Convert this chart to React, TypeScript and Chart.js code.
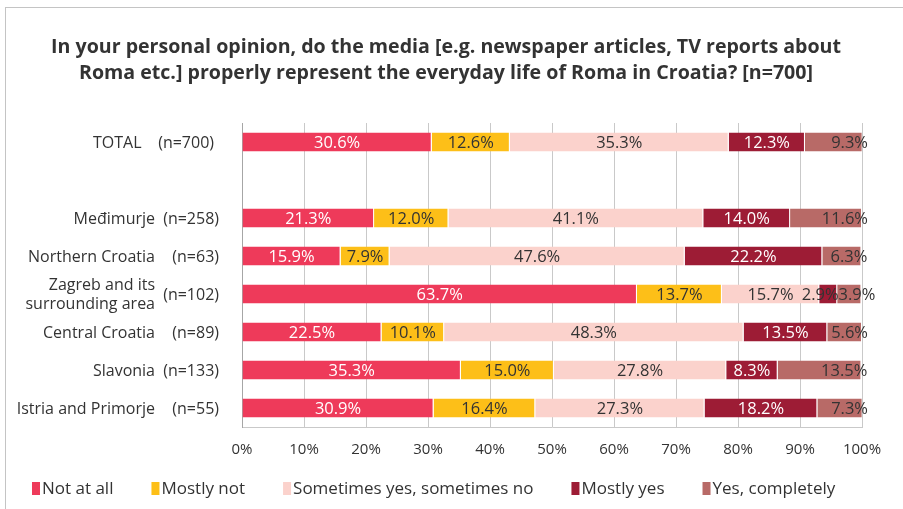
import React, { useEffect, useRef } from "react";
import { Chart, registerables } from "chart.js";

Chart.register(...registerables);

const titleLines = [
  "In your personal opinion, do the media [e.g. newspaper articles, TV reports about",
  "Roma etc.] properly represent the everyday life of Roma in Croatia? [n=700]",
];

const categoryNames = [
  "TOTAL",
  "",
  "Međimurje",
  "Northern Croatia",
  "Zagreb and its\nsurrounding area",
  "Central Croatia",
  "Slavonia",
  "Istria and Primorje",
];
const categorySizes = ["(n=700)", "", "(n=258)", "(n=63)", "(n=102)", "(n=89)", "(n=133)", "(n=55)"];

const seriesNames = ["Not at all", "Mostly not", "Sometimes yes, sometimes no", "Mostly yes", "Yes, completely"];
const notAtAll = [30.6, null, 21.3, 15.9, 63.7, 22.5, 35.3, 30.9];
const mostlyNot = [12.6, null, 12.0, 7.9, 13.7, 10.1, 15.0, 16.4];
const sometimes = [35.3, null, 41.1, 47.6, 15.7, 48.3, 27.8, 27.3];
const mostlyYes = [12.3, null, 14.0, 22.2, 2.9, 13.5, 8.3, 18.2];
const completely = [9.3, null, 11.6, 6.3, 3.9, 5.6, 13.5, 7.3];

const xTickValues = [0, 10, 20, 30, 40, 50, 60, 70, 80, 90, 100];

const colors = ["#EE3A5A", "#FDBF18", "#FBD2CC", "#9D1C35", "#B86A67"];
const labelColors = ["#ffffff", "#333333", "#333333", "#ffffff", "#333333"];

const FONT = "'Open Sans', 'DejaVu Sans', sans-serif";
const TEXT = "#333333";

const titlePlugin = {
  id: "customTitle",
  afterDraw(chart: any) {
    const ctx = chart.ctx;
    ctx.save();
    ctx.font = `bold 19.6px ${FONT}`;
    ctx.fillStyle = TEXT;
    ctx.textAlign = "center";
    ctx.textBaseline = "middle";
    titleLines.forEach((ln, k) => ctx.fillText(ln, 446, 47 + k * 26));
    ctx.restore();
  },
};

const valueLabelPlugin = {
  id: "valueLabels",
  afterDatasetsDraw(chart: any) {
    const ctx = chart.ctx;
    ctx.save();
    ctx.font = `16.5px ${FONT}`;
    ctx.textAlign = "center";
    ctx.textBaseline = "middle";
    const rows: any[][] = [];
    const last = chart.data.datasets.length - 1;
    chart.data.datasets.forEach((ds: any, i: number) => {
      const meta = chart.getDatasetMeta(i);
      meta.data.forEach((bar: any, j: number) => {
        const v = ds.data[j];
        if (v == null) return;
        const p = bar.getProps(["x", "y", "base"], true);
        const text = v.toFixed(1) + "%";
        const w = Math.abs(p.x - p.base);
        const tw = ctx.measureText(text).width;
        const end = Math.min(p.x, chart.chartArea.right);
        const cx = i === last ? end + 6 - tw / 2 : (p.x + p.base) / 2;
        (rows[j] = rows[j] || []).push({
          text,
          cx,
          y: p.y,
          tw,
          color: w < tw ? TEXT : labelColors[i],
        });
      });
    });
    rows.forEach((row) => {
      if (!row) return;
      for (let k = 1; k < row.length; k++) {
        const a = row[k - 1];
        const b = row[k];
        const need = (a.tw + b.tw) / 2;
        const gap = b.cx - a.cx;
        if (gap < need) {
          const d = (need - gap) / 2;
          a.cx -= d;
          b.cx += d;
        }
      }
      row.forEach((l) => {
        ctx.fillStyle = l.color;
        ctx.fillText(l.text, l.cx, l.y + 1);
      });
    });
    ctx.restore();
  },
};

const categoryLabelPlugin = {
  id: "categoryLabels",
  afterDraw(chart: any) {
    const ctx = chart.ctx;
    const yScale = chart.scales.y;
    const left = chart.chartArea.left;
    ctx.save();
    ctx.font = `16px ${FONT}`;
    ctx.fillStyle = TEXT;
    ctx.textAlign = "right";
    ctx.textBaseline = "middle";
    categoryNames.forEach((name, j) => {
      const y = yScale.getPixelForValue(j);
      const size = categorySizes[j];
      if (!name && !size) return;
      if (j === 0) {
        ctx.fillText(name + "    " + size, left - 28, y + 1);
        return;
      }
      const lines = name.split("\n");
      const lh = 19;
      lines.forEach((ln, k) => {
        ctx.fillText(ln, left - 87, y + 1 + (k - (lines.length - 1) / 2) * lh);
      });
      ctx.fillText(size, left - 23, y + 1);
    });
    ctx.restore();
  },
};

const legendPlugin = {
  id: "customLegend",
  afterDraw(chart: any) {
    const ctx = chart.ctx;
    ctx.save();
    ctx.font = `17px ${FONT}`;
    ctx.textBaseline = "middle";
    ctx.textAlign = "left";
    let x = 32;
    const y = 488;
    chart.data.datasets.forEach((ds: any) => {
      ctx.fillStyle = ds.backgroundColor;
      ctx.fillRect(x, y - 6, 8, 13);
      ctx.fillStyle = TEXT;
      ctx.fillText(ds.label, x + 10, y + 1);
      x += 10 + ctx.measureText(ds.label).width + 38;
    });
    ctx.restore();
  },
};

export default function App() {
  const ref = useRef<HTMLCanvasElement | null>(null);

  useEffect(() => {
    document.body.style.margin = "0";
    const series = [notAtAll, mostlyNot, sometimes, mostlyYes, completely];
    const chart = new Chart(ref.current as HTMLCanvasElement, {
      type: "bar",
      data: {
        labels: categoryNames.map((n, j) => n + " " + categorySizes[j]),
        datasets: series.map((data, i) => ({
          label: seriesNames[i],
          data: data as any,
          backgroundColor: colors[i],
          borderColor: "#ffffff",
          borderWidth: { top: 0, bottom: 0, left: 0, right: 1 },
          borderSkipped: false,
          categoryPercentage: 1,
          barPercentage: 0.5,
        })),
      },
      options: {
        indexAxis: "y",
        responsive: false,
        animation: false,
        layout: { padding: { left: 242, right: 41, top: 123, bottom: 50 } },
        plugins: {
          legend: { display: false },
          tooltip: { enabled: false },
          title: { display: false },
        },
        scales: {
          x: {
            stacked: true,
            min: 0,
            max: 100,
            afterBuildTicks: (axis: any) => {
              axis.ticks = xTickValues.map((v) => ({ value: v }));
            },
            afterFit: (axis: any) => {
              axis.height = 32;
            },
            ticks: {
              color: TEXT,
              font: { family: FONT, size: 15 },
              padding: 14,
              maxRotation: 0,
              callback: (v: any) => v + "%",
            },
            grid: { color: "#c9c9c9", drawTicks: false },
            border: { color: "#c9c9c9" },
          },
          y: {
            stacked: true,
            afterFit: (axis: any) => {
              axis.width = 0;
            },
            ticks: { display: false },
            grid: { display: false },
            border: { color: "#a6a6a6" },
          },
        },
      },
      plugins: [valueLabelPlugin, categoryLabelPlugin, legendPlugin, titlePlugin],
    } as any);
    return () => chart.destroy();
  }, []);

  return (
    <div style={{ position: "relative", width: 903, height: 509, overflow: "hidden", background: "#fff" }}>
      <div
        style={{
          position: "absolute",
          left: 5,
          top: 7,
          width: 950,
          height: 560,
          border: "1px solid #c4c4c4",
        }}
      />
      <canvas ref={ref} width={903} height={509} style={{ position: "absolute", left: 0, top: 0 }} />
    </div>
  );
}
